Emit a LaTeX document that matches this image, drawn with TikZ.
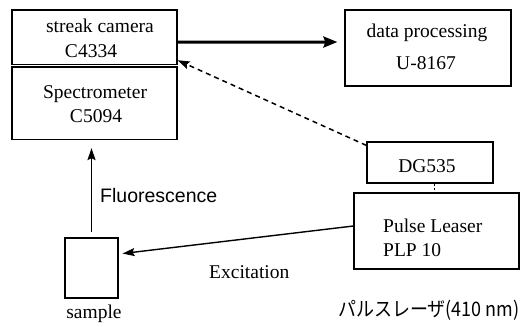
\documentclass[tikz,border=0pt]{standalone}
\usepackage{graphicx}
\usepackage{fontspec}
\setmainfont{Liberation Serif}
\setsansfont{Liberation Sans}
\newfontfamily\jpfont{Noto Sans CJK JP}
\usetikzlibrary{arrows.meta}

\begin{document}
\begin{tikzpicture}[x=1pt,y=-1pt,
  box/.style={draw, line width=1.2pt, inner sep=0pt},
  lbl/.style={inner sep=0pt, anchor=base, font=\fontsize{19.5}{24}\selectfont},
  lbll/.style={lbl, anchor=base west},
  arr/.style={line width=1.5pt, -{Stealth[length=12pt,width=8pt,inset=2pt]}},
]
\useasboundingbox (0,0) rectangle (526,326);
\fill[white] (0,0) rectangle (526,326);

% instrument boxes
\node[box, minimum width=165, minimum height=54.5] (streak) at (94.5,37.25) {};
\node[box, minimum width=165, minimum height=72.5] (spec) at (94.5,103.25) {};
\node[box, minimum width=166, minimum height=76] (data) at (428,48) {};
\node[box, minimum width=126, minimum height=41] (dg) at (430,162.5) {};
\node[box, minimum width=165, minimum height=76] (pulse) at (436.5,231) {};
\node[box, minimum width=53, minimum height=60] (sample) at (91.5,268) {};

% box texts
\node[lbl] (streak1) at (100,32.5) {streak camera};
\node[lbl] (streak2) at (91,57.5) {C4334};
\node[lbl] (spec1) at (95,98) {Spectrometer};
\node[lbl] (spec2) at (96,122) {C5094};
\node[lbl] (data1) at (427,38) {data processing};
\node[lbl] (data2) at (426,70) {U-8167};
\node[lbl] (dg1) at (427,172) {DG535};
\node[lbll] (pulse1) at (383,232) {Pulse Leaser};
\node[lbll] (pulse2) at (383,256) {PLP 10};

% labels
\node[lbl] (samplelbl) at (94,318) {sample};
\node[lbll, font=\sffamily\fontsize{19.5}{24}\selectfont] (fluolbl) at (100,202) {Fluorescence};
\node[lbll] (exclbl) at (209,278) {Excitation};
\node[inner sep=0pt, anchor=base west] (laserlbl) at (338,316)
  {\scalebox{0.9}[1]{\jpfont\fontsize{20}{24}\selectfont パルスレーザ(410 nm)}};

% connectors
\draw[arr, line width=3pt, -{Stealth[length=14pt,width=11pt,inset=2pt]}, shorten >=7pt]
  ([yshift=-5pt]streak.east) -- ([yshift=6pt]data.west);
\draw[arr, dash pattern=on 5pt off 4pt]
  ([yshift=-4pt]dg.north west) -- ([yshift=-23pt]streak.east);
\draw[line width=1pt, dash pattern=on 2pt off 2pt]
  ([xshift=4pt]dg.south) -- ([xshift=4pt]dg.south |- pulse.north);
\draw[arr, shorten <=5pt, shorten >=8pt] (sample.north) -- (sample.north |- spec.south);
\draw[arr, line width=1.4pt, shorten >=4pt]
  ([yshift=5pt]pulse.west) -- ([yshift=14pt]sample.east);
\end{tikzpicture}
\end{document}
